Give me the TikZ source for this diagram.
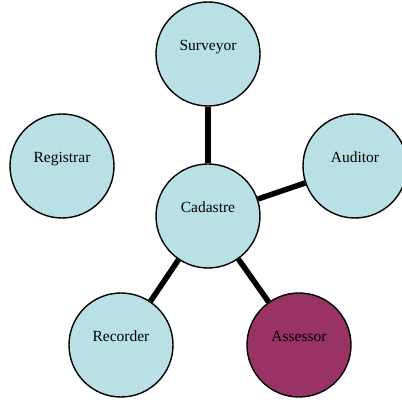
\documentclass[tikz,border=0pt]{standalone}
\usepackage{fontspec}
\setmainfont{Liberation Serif}
\definecolor{nodeblue}{RGB}{185,224,228}
\definecolor{nodeplum}{RGB}{153,51,102}
\tikzset{
  office/.style={circle,draw=black,line width=1.4bp,fill=nodeblue,minimum size=104bp,inner sep=0pt,
    text height=11bp,text depth=18bp,font=\fontsize{15.5bp}{18bp}\selectfont},
  link/.style={black,line width=5.5bp},
}
\begin{document}
\begin{tikzpicture}[>=latex,line join=bevel,]
%%
\useasboundingbox (0bp,0bp) rectangle (402bp,403bp);
\node (node_cadastre) at (208.0bp,187.0bp) [office] {Cadastre};
  \node (node_surveyor) at (208.0bp,349.0bp) [office] {Surveyor};
  \node (node_registrar) at (62.0bp,237.0bp) [office] {Registrar};
  \node (node_auditor) at (355.0bp,237.0bp) [office] {Auditor};
  \node (node_recorder) at (121.0bp,58.0bp) [office] {Recorder};
  \node (node_assessor) at (299.0bp,58.0bp) [office,fill=nodeplum] {Assessor};
  \draw [link] (node_cadastre) -- (node_surveyor);
  \draw [link] (node_cadastre) -- (node_auditor);
  \draw [link] (node_cadastre) -- (node_recorder);
  \draw [link] (node_cadastre) -- (node_assessor);
%
\end{tikzpicture}
\end{document}
